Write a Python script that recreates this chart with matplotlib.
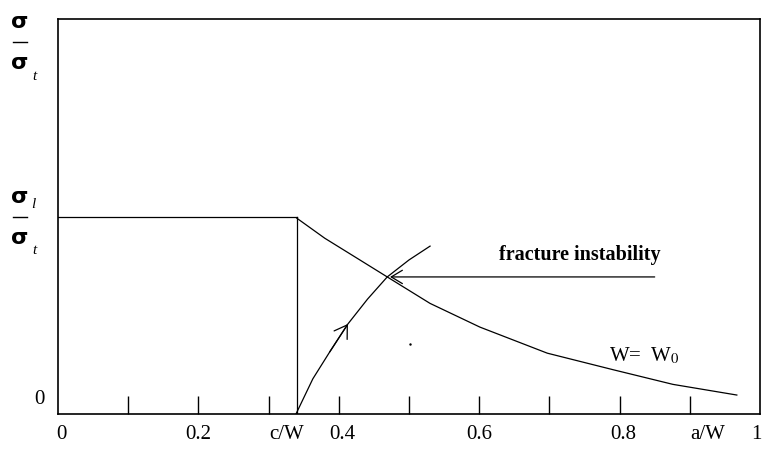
import matplotlib
matplotlib.use("Agg")

import matplotlib.pyplot as plt
from matplotlib.lines import Line2D

# ==============================
# DATOS
# ==============================
c_w = 0.34
plateau = 0.5

# curva W = W0 (tensión límite decreciente)
w0_x = [0.340, 0.380, 0.430, 0.469, 0.530, 0.601, 0.697, 0.791, 0.876, 0.967]
w0_y = [0.496, 0.445, 0.390, 0.347, 0.280, 0.220, 0.154, 0.112, 0.075, 0.048]

# curva R (ascendente)
r_x = [0.339, 0.363, 0.387, 0.413, 0.441, 0.469, 0.500, 0.530]
r_y = [0.000, 0.089, 0.157, 0.228, 0.291, 0.347, 0.390, 0.425]

# punto de inestabilidad y flecha
inst_x, inst_y = 0.473, 0.347
arrow_start_x = 0.85

x_ticks = [0.1, 0.2, 0.3, 0.4, 0.5, 0.6, 0.7, 0.8, 0.9]
x_labels = ["0", "0.2", "c/W", "0.4", "0.6", "0.8", "a/W", "1"]
x_label_pos = [0.005, 0.2, 0.325, 0.405, 0.6, 0.805, 0.925, 0.995]

W, H = 762, 452

# ==============================
# FIGURA
# ==============================
fig = plt.figure(figsize=(W / 100, H / 100), dpi=100)
ax = fig.add_axes([58 / W, 37 / H, 702 / W, 395 / H])

ax.set_xlim(0, 1)
ax.set_ylim(0, 1)

for sp in ax.spines.values():
    sp.set_linewidth(1.2)
    sp.set_color("black")

ax.set_xticks(x_ticks)
ax.set_xticklabels([])
ax.set_yticks([])
ax.tick_params(axis="x", direction="in", length=13, width=1.0)

# meseta y vertical en c/W
ax.plot([0, c_w], [plateau, plateau], color="black", lw=0.9)
ax.plot([c_w, c_w], [0, plateau], color="black", lw=0.9)

# curvas
ax.plot(w0_x, w0_y, color="black", lw=0.9)
ax.plot(r_x, r_y, color="black", lw=0.9)

# flecha sobre la curva R
ax.annotate("", xy=(r_x[3], r_y[3]), xytext=(r_x[2], r_y[2]),
            arrowprops=dict(arrowstyle="->, head_length=0.55, head_width=0.35",
                            color="black", lw=0.9,
                            mutation_scale=16, shrinkA=0, shrinkB=0))

# flecha de inestabilidad
ax.annotate("", xy=(inst_x, inst_y), xytext=(arrow_start_x, inst_y),
            arrowprops=dict(arrowstyle="->, head_length=0.5, head_width=0.3",
                            color="black", lw=0.9,
                            mutation_scale=16, shrinkA=0, shrinkB=0))

ax.plot([0.501], [0.177], "k.", markersize=1.5)

# ==============================
# TEXTOS
# ==============================
serif = "Liberation Serif"

for lab, xp in zip(x_labels, x_label_pos):
    ax.text(xp, -0.05, lab, transform=ax.get_xaxis_transform(),
            ha="center", va="center", fontsize=15, family=serif,
            clip_on=False)

ax.text(-0.027, 0.04, "0", ha="center", va="center", fontsize=15,
        family=serif, clip_on=False)


def fraccion(y_bar, sub_top=None):
    # y_bar en pixeles desde arriba
    def fy(py):
        return 1 - py / H
    fig.text(20 / W, fy(y_bar - 21), "σ", ha="center", va="center",
             fontsize=16, fontweight="bold", family="DejaVu Sans")
    fig.add_artist(Line2D([13 / W, 27 / W], [fy(y_bar)] * 2,
                          color="black", lw=1.0))
    fig.text(20 / W, fy(y_bar + 20), "σ", ha="center", va="center",
             fontsize=16, fontweight="bold", family="DejaVu Sans")
    fig.text(34 / W, fy(y_bar + 33), "t", ha="center", va="center",
             fontsize=11, style="italic", family=serif)
    if sub_top:
        fig.text(33 / W, fy(y_bar - 14), sub_top, ha="center", va="center",
                 fontsize=11, style="italic", family=serif)


fraccion(43)
fraccion(218, "l")

ax.text(0.744, 0.405, "fracture instability", ha="center", va="center",
        fontsize=14.5, fontweight="bold", family=serif)

ax.text(0.835, 0.15, r"W=  W$_0$", ha="center", va="center",
        fontsize=15, family=serif, math_fontfamily="stix")

plt.savefig("out.png", dpi=100)
plt.close()
